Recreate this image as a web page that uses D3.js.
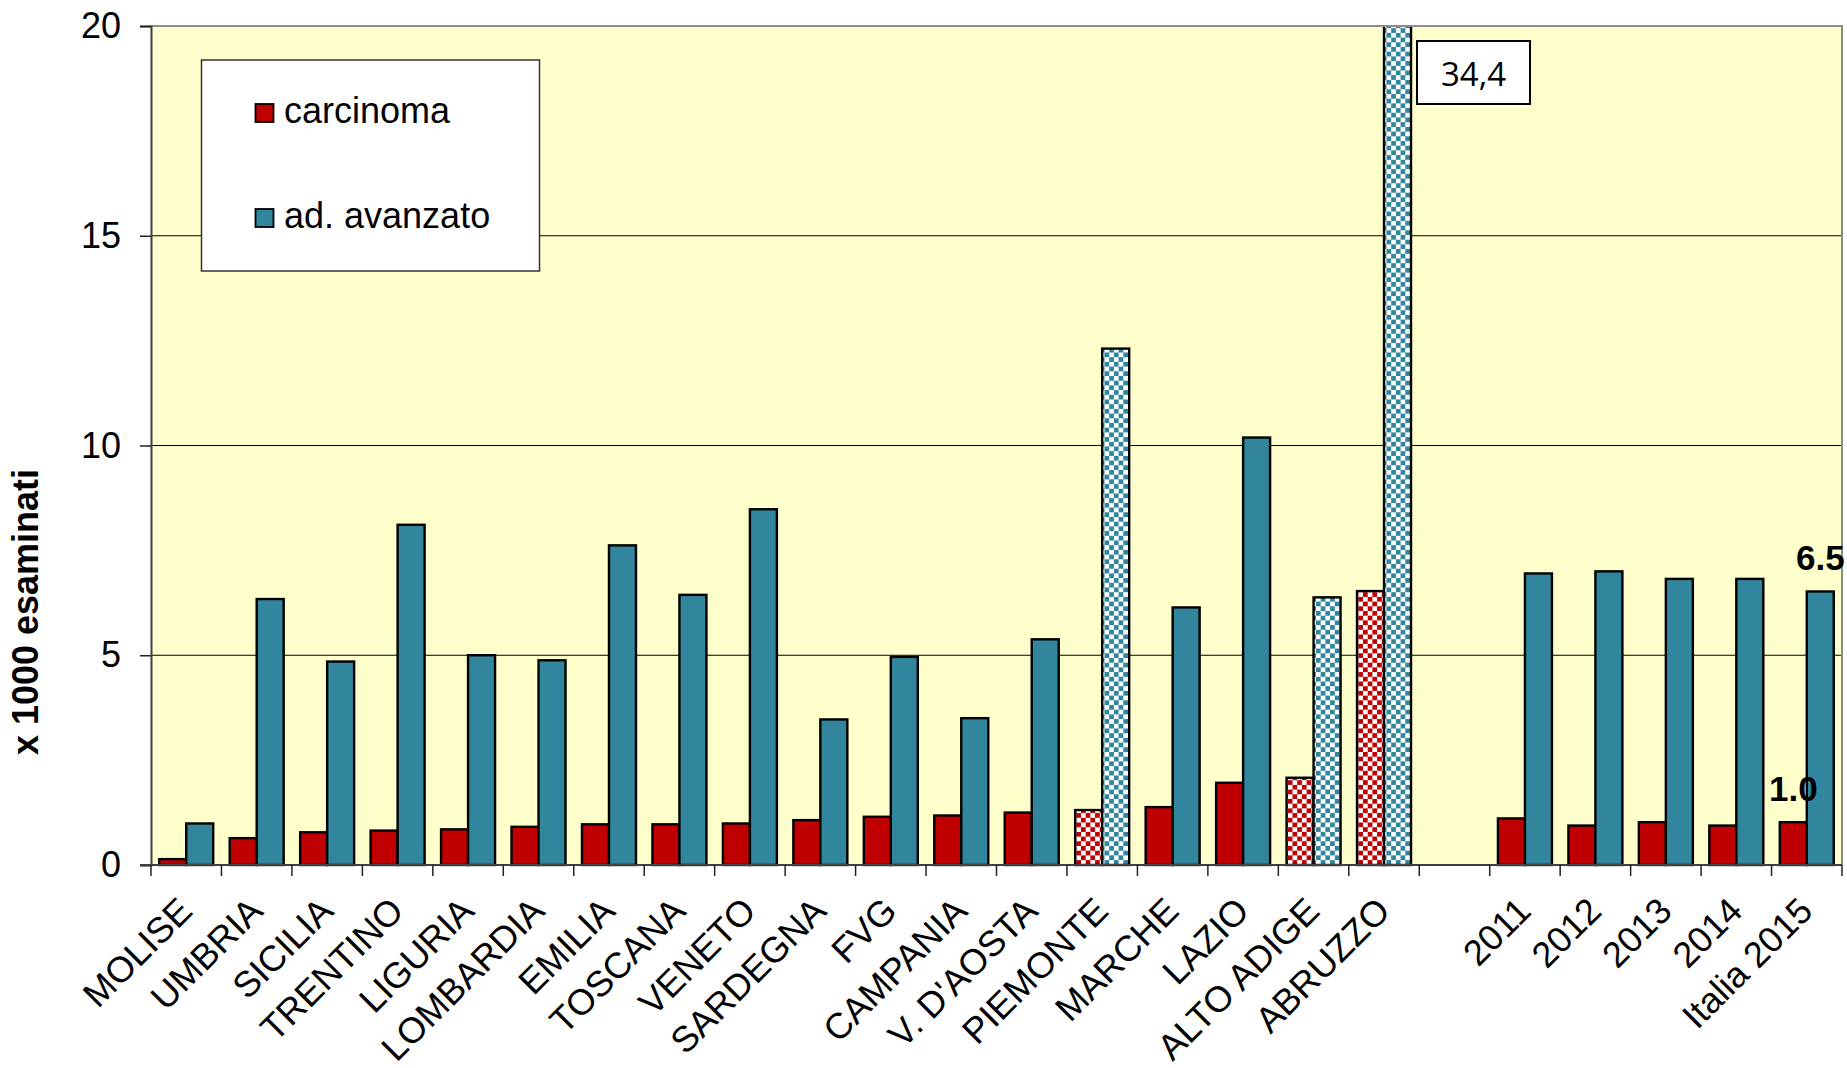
<!DOCTYPE html>
<html>
<head>
<meta charset="utf-8">
<script src="https://cdn.jsdelivr.net/npm/d3@7"></script>
<style>
  html, body { margin: 0; padding: 0; background: #ffffff; }
  svg { display: block; }
  text { font-family: "Liberation Sans", Arial, sans-serif; fill: #000; }
</style>
</head>
<body>
<svg id="chart" width="1847" height="1068"></svg>
<script>
// ---------------- DATA ----------------
const categories = ["MOLISE","UMBRIA","SICILIA","TRENTINO","LIGURIA","LOMBARDIA","EMILIA","TOSCANA","VENETO","SARDEGNA","FVG","CAMPANIA","V. D'AOSTA","PIEMONTE","MARCHE","LAZIO","ALTO ADIGE","ABRUZZO","","2011","2012","2013","2014","Italia 2015"];
const carcinoma = [0.14,0.64,0.78,0.82,0.85,0.91,0.97,0.97,0.99,1.07,1.15,1.18,1.25,1.31,1.38,1.96,2.08,6.53,null,1.11,0.94,1.02,0.94,1.02];
const adenoma   = [0.99,6.34,4.85,8.11,5.00,4.88,7.62,6.44,8.48,3.47,4.96,3.50,5.38,12.31,6.14,10.19,6.38,34.4,null,6.95,7.00,6.82,6.82,6.52];
const patterned = ["PIEMONTE","ALTO ADIGE","ABRUZZO"];
const seriesNames = ["carcinoma","ad. avanzato"];
const yTicks = [0,5,10,15,20];
const yTitle = "x 1000 esaminati";
const labelledCategory = "Italia 2015";
const offScaleCategory = "ABRUZZO";

// ---------------- LAYOUT ----------------
const pLeft = 151, pRight = 1842, pTop = 26, pBottom = 865;
const colors = ["#C00000", "#31859C"];
const svg = d3.select("#chart");
const defs = svg.append("defs");

const x = d3.scaleBand().domain(d3.range(categories.length)).range([pLeft, pRight]).padding(0);
const bw = x.bandwidth();
const xs = d3.scaleBand().domain([0,1]).range([0, bw]).paddingInner(0).paddingOuter(0.305);
const y = d3.scaleLinear().domain([0, 20]).range([pBottom, pTop]);

// checker patterns
const cell = 4.7;
colors.forEach((c, i) => {
  const p = defs.append("pattern").attr("id", "chk" + i)
    .attr("patternUnits", "userSpaceOnUse").attr("width", cell * 2).attr("height", cell * 2);
  p.append("rect").attr("width", cell * 2).attr("height", cell * 2).attr("fill", "#ffffff");
  p.append("rect").attr("width", cell).attr("height", cell).attr("fill", c);
  p.append("rect").attr("x", cell).attr("y", cell).attr("width", cell).attr("height", cell).attr("fill", c);
});
defs.append("clipPath").attr("id", "plotClip")
  .append("rect").attr("x", pLeft).attr("y", pTop).attr("width", pRight - pLeft).attr("height", pBottom - pTop + 3);

// plot background
svg.append("rect").attr("x", pLeft).attr("y", pTop).attr("width", pRight - pLeft).attr("height", pBottom - pTop)
  .attr("fill", "#FFFFCC");

// gridlines
svg.append("g").selectAll("line").data(yTicks.filter(t => t > 0 && t < 20)).join("line")
  .attr("x1", pLeft).attr("x2", pRight)
  .attr("y1", d => y(d)).attr("y2", d => y(d))
  .attr("stroke", "#000").attr("stroke-width", 1.2);

// bars
const rows = categories.map((c, i) => ({ c, i, v: [carcinoma[i], adenoma[i]] }));
const barsG = svg.append("g").attr("clip-path", "url(#plotClip)");
rows.forEach(r => {
  r.v.forEach((v, s) => {
    if (v == null) return;
    const pat = patterned.includes(r.c);
    barsG.append("rect")
      .attr("x", x(r.i) + xs(s))
      .attr("y", y(v))
      .attr("width", xs.bandwidth())
      .attr("height", y(0) - y(v))
      .attr("fill", pat ? `url(#chk${s})` : colors[s])
      .attr("stroke", "#000").attr("stroke-width", 2.4);
  });
});

// plot border (top/right)
svg.append("path")
  .attr("d", `M${pLeft},${pTop}H${pRight}V${pBottom}`)
  .attr("fill", "none").attr("stroke", "#8c8c8c").attr("stroke-width", 2);

// y axis
const yAxis = svg.append("g").attr("transform", `translate(${pLeft},0)`)
  .call(d3.axisLeft(y).tickValues(yTicks).tickSize(11).tickPadding(19).tickFormat(d3.format("d")));
yAxis.select(".domain").attr("stroke", "#404040").attr("stroke-width", 2);
yAxis.selectAll(".tick line").attr("stroke", "#222").attr("stroke-width", 1.5);
yAxis.selectAll(".tick text").attr("font-size", 36).attr("font-family", '"Liberation Sans", Arial, sans-serif').attr("fill", "#000");

// x axis line + ticks at category boundaries
svg.append("line").attr("x1", pLeft - 11).attr("x2", pRight).attr("y1", pBottom).attr("y2", pBottom)
  .attr("stroke", "#404040").attr("stroke-width", 2);
const bounds = d3.range(categories.length).map(i => x(i)).concat([x(categories.length - 1) + bw]);
svg.append("g").selectAll("line").data(bounds).join("line")
  .attr("x1", d => d).attr("x2", d => d).attr("y1", pBottom).attr("y2", pBottom + 11)
  .attr("stroke", "#222").attr("stroke-width", 1.5);

// x labels
svg.append("g").selectAll("text").data(rows.filter(r => r.c !== "")).join("text")
  .attr("transform", r => `translate(${x(r.i) + bw / 2 + 8},${pBottom + 48}) rotate(-45)`)
  .attr("text-anchor", "end").attr("font-size", 36)
  .text(r => r.c);

// y title
svg.append("text")
  .attr("transform", `translate(38,612) rotate(-90)`)
  .attr("text-anchor", "middle").attr("font-size", 36).attr("font-weight", "bold")
  .text(yTitle);

// legend
const lg = svg.append("g");
lg.append("rect").attr("x", 201.5).attr("y", 60).attr("width", 338).attr("height", 211)
  .attr("fill", "#fff").attr("stroke", "#333").attr("stroke-width", 1.5);
seriesNames.forEach((n, s) => {
  const cy = 113 + s * 105;
  lg.append("rect").attr("x", 255.5).attr("y", cy - 9).attr("width", 18).attr("height", 18)
    .attr("fill", colors[s]).attr("stroke", "#000").attr("stroke-width", 1.8);
  lg.append("text").attr("x", 284).attr("y", cy + 10).attr("font-size", 36).text(n);
});

// data labels for the last category
const li = categories.indexOf(labelledCategory);
const fmt1 = d3.format(".1f");
[carcinoma[li], adenoma[li]].forEach((v, s) => {
  svg.append("text")
    .attr("x", x(li) + xs(s) + xs.bandwidth() / 2)
    .attr("y", y(v) - 21)
    .attr("text-anchor", "middle").attr("font-size", 35).attr("font-weight", "bold")
    .text(fmt1(v));
});

// off-scale value box
const oi = categories.indexOf(offScaleCategory);
const itFmt = d3.formatLocale({ decimal: ",", thousands: ".", grouping: [3], currency: ["", "€"] }).format(".1f");
const bx = x(oi) + xs(1) + xs.bandwidth() + 6;
svg.append("rect").attr("x", bx).attr("y", 41).attr("width", 113).attr("height", 63)
  .attr("fill", "#fff").attr("stroke", "#000").attr("stroke-width", 2);
svg.append("text").attr("x", bx + 56.5).attr("y", 86)
  .attr("text-anchor", "middle").attr("font-size", 33)
  .style("font-family", '"Open Sans", sans-serif')
  .text(itFmt(adenoma[oi]));
</script>
</body>
</html>
